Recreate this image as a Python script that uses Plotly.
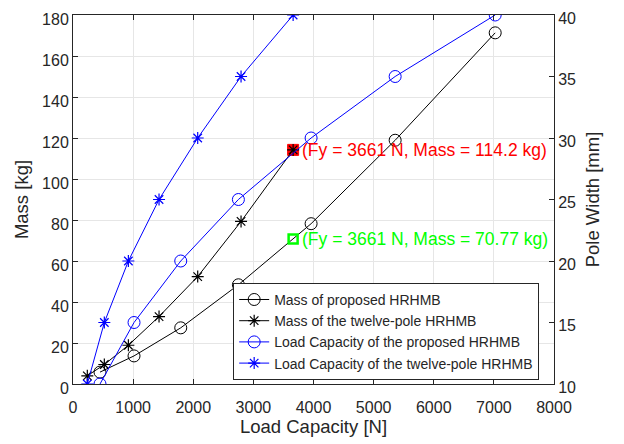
import plotly.graph_objects as go

# ---- data ----
fy_proposed = [449, 1015, 1792, 2751, 3960, 5358, 7022]
mass_proposed = [5.8, 13.7, 27.4, 48.4, 78.2, 118.9, 171.3]
fy_twelve = [238, 521, 921, 1431, 2074, 2795, 3661]
mass_twelve = [4.0, 9.5, 18.9, 32.9, 52.4, 79.3, 114.2]
pole_width = [10, 15, 20, 25, 30, 35, 40]

tip_fy = [3661]
tip_mass_twelve = [114.2]
tip_mass_proposed = [70.77]
tip_text_red = "(Fy = 3661 N, Mass = 114.2 kg)"
tip_text_green = "(Fy = 3661 N, Mass = 70.77 kg)"

FONT = "Liberation Sans, Arial, sans-serif"
AX = "#262626"

fig = go.Figure()

# data tip marker (below lines so the star shows on top)
fig.add_trace(go.Scatter(x=tip_fy, y=tip_mass_twelve, mode="markers",
                         marker=dict(symbol="square", size=11, color="#FF0000",
                                     line=dict(color="#FF0000", width=1)),
                         showlegend=False, hoverinfo="skip"))

fig.add_trace(go.Scatter(x=fy_proposed, y=mass_proposed, mode="lines+markers",
                         name="Mass of proposed HRHMB",
                         line=dict(color="black", width=1),
                         marker=dict(symbol="circle-open", size=12, color="black",
                                     line=dict(width=1))))
fig.add_trace(go.Scatter(x=fy_twelve, y=mass_twelve, mode="lines+markers",
                         name="Mass of the twelve-pole HRHMB",
                         line=dict(color="black", width=1),
                         marker=dict(symbol="asterisk-open", size=10, color="black",
                                     line=dict(width=1.2, color="black"))))
fig.add_trace(go.Scatter(x=fy_proposed, y=pole_width, mode="lines+markers",
                         name="Load Capacity of the proposed HRHMB", yaxis="y2",
                         line=dict(color="#0000FF", width=1),
                         marker=dict(symbol="circle-open", size=12, color="#0000FF",
                                     line=dict(width=1))))
fig.add_trace(go.Scatter(x=fy_twelve, y=pole_width, mode="lines+markers",
                         name="Load Capacity of the twelve-pole HRHMB", yaxis="y2",
                         line=dict(color="#0000FF", width=1),
                         marker=dict(symbol="asterisk-open", size=10, color="#0000FF",
                                     line=dict(width=1.2, color="#0000FF"))))

fig.add_trace(go.Scatter(x=tip_fy, y=tip_mass_proposed, mode="markers",
                         marker=dict(symbol="square-open", size=9, color="#00FF00",
                                     line=dict(color="#00FF00", width=2.5)),
                         showlegend=False, hoverinfo="skip"))

fig.add_annotation(x=tip_fy[0], y=tip_mass_twelve[0], text=tip_text_red,
                   showarrow=False, xanchor="left", yanchor="middle", xshift=7,
                   font=dict(family=FONT, size=17.5, color="#FF0000"))
fig.add_annotation(x=tip_fy[0], y=tip_mass_proposed[0], text=tip_text_green,
                   showarrow=False, xanchor="left", yanchor="middle", xshift=7,
                   font=dict(family=FONT, size=17.5, color="#00FF00"))

fig.update_layout(
    width=616, height=436,
    margin=dict(l=65, r=70, t=7, b=60, pad=0),
    paper_bgcolor="white", plot_bgcolor="white",
    font=dict(family=FONT, color=AX),
    xaxis=dict(range=[0, 8000], dtick=1000, showgrid=True, gridcolor="#E6E6E6",
               gridwidth=1, zeroline=False, showline=True, linecolor=AX,
               linewidth=1, mirror="ticks", ticks="inside", ticklen=5,
               tickcolor=AX, tickfont=dict(size=16, color=AX),
               ticklabelstandoff=9, ticklabeloverflow="allow",
               title=dict(text="Load Capacity [N]", font=dict(size=18.5, color=AX),
                          standoff=4),
               automargin=False),
    yaxis=dict(range=[0, 180], dtick=20, showgrid=True, gridcolor="#E6E6E6",
               gridwidth=1, zeroline=False, showline=True, linecolor=AX,
               linewidth=1, ticks="inside", ticklen=5, tickcolor=AX,
               tickfont=dict(size=16, color=AX), ticklabeloverflow="allow",
               ticklabelshift=4,
               title=dict(text="Mass [kg]", font=dict(size=18.5, color=AX),
                          standoff=8),
               automargin=False),
    yaxis2=dict(range=[10, 40], dtick=5, overlaying="y", side="right",
                showgrid=False, zeroline=False, showline=True, linecolor=AX,
                linewidth=1, ticks="inside", ticklen=5, tickcolor=AX,
                tickfont=dict(size=16, color=AX), ticklabeloverflow="allow",
                ticklabelshift=3,
                title=dict(text="Pole Width [mm]", font=dict(size=18.5, color=AX),
                           standoff=10),
                automargin=False),
    legend=dict(x=0.333, y=0.274, xanchor="left", yanchor="top",
                bgcolor="white", bordercolor=AX, borderwidth=1,
                font=dict(size=14, color=AX), tracegroupgap=0),
    showlegend=True,
)

fig.write_html("out.html")
